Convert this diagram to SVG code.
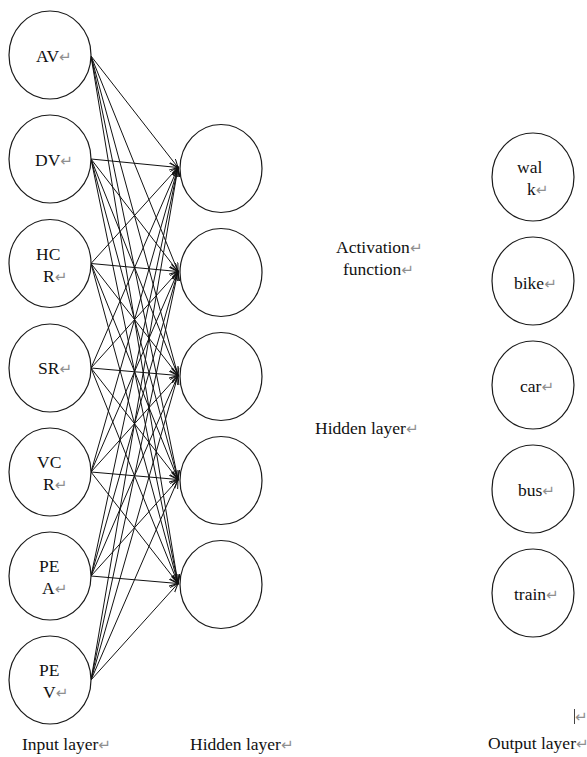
<svg xmlns="http://www.w3.org/2000/svg" width="587" height="757" viewBox="0 0 587 757">
<style>
  .node { fill: #ffffff; stroke: #1a1a1a; stroke-width: 1.2; }
  text.lbl { font-family: "Liberation Serif", "Times New Roman", "DejaVu Serif", serif; font-size: 17.5px; fill: #111; }
  .ret { font-family: "DejaVu Sans", sans-serif; font-size: 15px; fill: #8f8f8f; }
  .edge { stroke: #111; stroke-width: 1; fill: none; marker-end: url(#arr); }
</style>
<defs>
  <marker id="arr" markerUnits="userSpaceOnUse" markerWidth="12" markerHeight="10" refX="9" refY="3.5" orient="auto">
    <path d="M0,0 L9,3.5 L0,7" fill="none" stroke="#111" stroke-width="1"/>
  </marker>
</defs>
<rect width="587" height="757" fill="#ffffff"/>

<g id="connectors">
  <line class="edge" x1="91" y1="56" x2="178" y2="167.5"/>
  <line class="edge" x1="91" y1="56" x2="178" y2="271.5"/>
  <line class="edge" x1="91" y1="56" x2="178" y2="375.5"/>
  <line class="edge" x1="91" y1="56" x2="178" y2="479.5"/>
  <line class="edge" x1="91" y1="56" x2="178" y2="583.5"/>
  <line class="edge" x1="91" y1="159" x2="178" y2="167.5"/>
  <line class="edge" x1="91" y1="159" x2="178" y2="271.5"/>
  <line class="edge" x1="91" y1="159" x2="178" y2="375.5"/>
  <line class="edge" x1="91" y1="159" x2="178" y2="479.5"/>
  <line class="edge" x1="91" y1="159" x2="178" y2="583.5"/>
  <line class="edge" x1="91" y1="263.5" x2="178" y2="167.5"/>
  <line class="edge" x1="91" y1="263.5" x2="178" y2="271.5"/>
  <line class="edge" x1="91" y1="263.5" x2="178" y2="375.5"/>
  <line class="edge" x1="91" y1="263.5" x2="178" y2="479.5"/>
  <line class="edge" x1="91" y1="263.5" x2="178" y2="583.5"/>
  <line class="edge" x1="91" y1="368" x2="178" y2="167.5"/>
  <line class="edge" x1="91" y1="368" x2="178" y2="271.5"/>
  <line class="edge" x1="91" y1="368" x2="178" y2="375.5"/>
  <line class="edge" x1="91" y1="368" x2="178" y2="479.5"/>
  <line class="edge" x1="91" y1="368" x2="178" y2="583.5"/>
  <line class="edge" x1="91" y1="472" x2="178" y2="167.5"/>
  <line class="edge" x1="91" y1="472" x2="178" y2="271.5"/>
  <line class="edge" x1="91" y1="472" x2="178" y2="375.5"/>
  <line class="edge" x1="91" y1="472" x2="178" y2="479.5"/>
  <line class="edge" x1="91" y1="472" x2="178" y2="583.5"/>
  <line class="edge" x1="91" y1="576" x2="178" y2="167.5"/>
  <line class="edge" x1="91" y1="576" x2="178" y2="271.5"/>
  <line class="edge" x1="91" y1="576" x2="178" y2="375.5"/>
  <line class="edge" x1="91" y1="576" x2="178" y2="479.5"/>
  <line class="edge" x1="91" y1="576" x2="178" y2="583.5"/>
  <line class="edge" x1="91" y1="680" x2="178" y2="167.5"/>
  <line class="edge" x1="91" y1="680" x2="178" y2="271.5"/>
  <line class="edge" x1="91" y1="680" x2="178" y2="375.5"/>
  <line class="edge" x1="91" y1="680" x2="178" y2="479.5"/>
  <line class="edge" x1="91" y1="680" x2="178" y2="583.5"/>
</g>

<g id="in-AV"><ellipse class="node" cx="50" cy="55" rx="41" ry="44"/><text class="lbl" x="36" y="62">AV<tspan class="ret">↵</tspan></text></g>
<g id="in-DV"><ellipse class="node" cx="50" cy="159" rx="41" ry="44"/><text class="lbl" x="35" y="166">DV<tspan class="ret">↵</tspan></text></g>
<g id="in-HCR"><ellipse class="node" cx="50" cy="263.5" rx="41" ry="44"/><text class="lbl" x="36" y="259.5">HC</text><text class="lbl" x="43" y="281.5">R<tspan class="ret">↵</tspan></text></g>
<g id="in-SR"><ellipse class="node" cx="50" cy="368" rx="41" ry="44"/><text class="lbl" x="38" y="374">SR<tspan class="ret">↵</tspan></text></g>
<g id="in-VCR"><ellipse class="node" cx="50" cy="472" rx="41" ry="44"/><text class="lbl" x="37" y="468">VC</text><text class="lbl" x="43" y="490">R<tspan class="ret">↵</tspan></text></g>
<g id="in-PEA"><ellipse class="node" cx="50" cy="576" rx="41" ry="44"/><text class="lbl" x="39" y="572">PE</text><text class="lbl" x="42" y="594">A<tspan class="ret">↵</tspan></text></g>
<g id="in-PEV"><ellipse class="node" cx="50" cy="680" rx="41" ry="44"/><text class="lbl" x="39" y="676">PE</text><text class="lbl" x="43" y="698">V<tspan class="ret">↵</tspan></text></g>

<g id="hid-1"><ellipse class="node" cx="221" cy="168.5" rx="41" ry="44"/></g>
<g id="hid-2"><ellipse class="node" cx="221" cy="272.5" rx="41" ry="44"/></g>
<g id="hid-3"><ellipse class="node" cx="221" cy="376.5" rx="41" ry="44"/></g>
<g id="hid-4"><ellipse class="node" cx="221" cy="480.5" rx="41" ry="44"/></g>
<g id="hid-5"><ellipse class="node" cx="221" cy="584.5" rx="41" ry="44"/></g>

<g id="out-walk"><ellipse class="node" cx="533" cy="177" rx="41" ry="44"/><text class="lbl" x="517" y="173">wal</text><text class="lbl" x="527" y="195">k<tspan class="ret">↵</tspan></text></g>
<g id="out-bike"><ellipse class="node" cx="533" cy="281" rx="41" ry="44"/><text class="lbl" x="514" y="288.5">bike<tspan class="ret">↵</tspan></text></g>
<g id="out-car"><ellipse class="node" cx="533" cy="385" rx="41" ry="44"/><text class="lbl" x="520" y="392">car<tspan class="ret">↵</tspan></text></g>
<g id="out-bus"><ellipse class="node" cx="533" cy="489" rx="41" ry="44"/><text class="lbl" x="518" y="495.5">bus<tspan class="ret">↵</tspan></text></g>
<g id="out-train"><ellipse class="node" cx="533" cy="593" rx="41" ry="44"/><text class="lbl" x="514" y="600">train<tspan class="ret">↵</tspan></text></g>

<g id="labels">
  <text class="lbl" x="336" y="253">Activation<tspan class="ret">↵</tspan></text>
  <text class="lbl" x="343" y="275">function<tspan class="ret">↵</tspan></text>
  <text class="lbl" x="315" y="434">Hidden layer<tspan class="ret">↵</tspan></text>
  <text class="lbl" x="22" y="750">Input layer<tspan class="ret">↵</tspan></text>
  <text class="lbl" x="190" y="750">Hidden layer<tspan class="ret">↵</tspan></text>
  <text class="lbl" x="488" y="749">Output layer<tspan class="ret">↵</tspan></text>
  <line x1="574.5" y1="709" x2="574.5" y2="724" stroke="#444" stroke-width="1"/>
  <text class="ret" x="575" y="722">↵</text>
</g>
</svg>
